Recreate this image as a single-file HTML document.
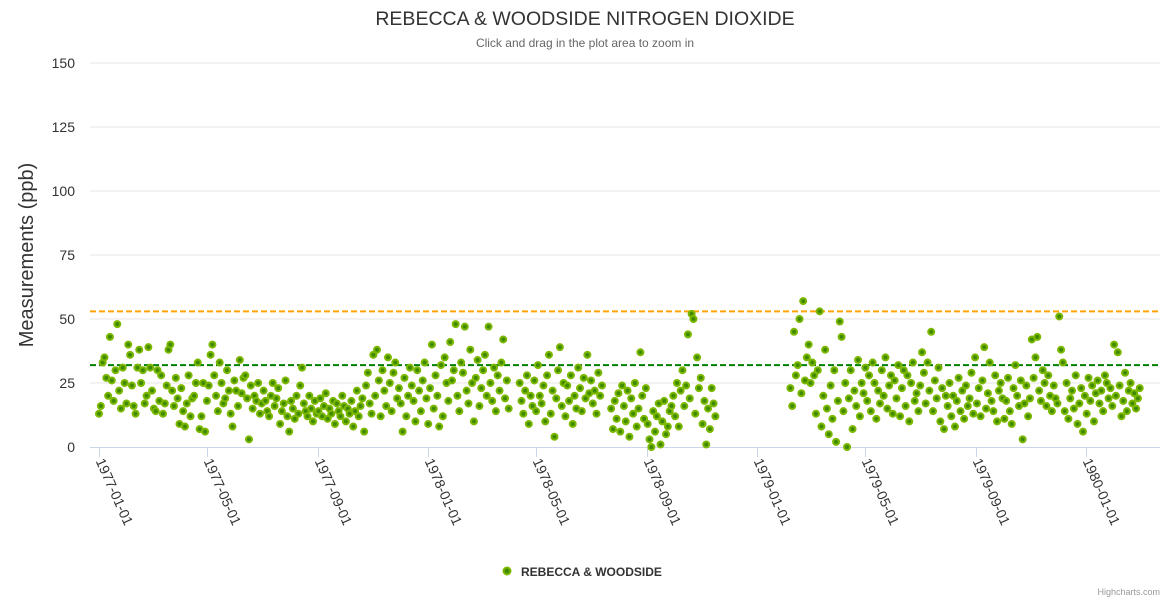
<!DOCTYPE html>
<html><head><meta charset="utf-8"><style>
body{margin:0;background:#fff;font-family:"Liberation Sans",sans-serif}
svg{display:block}
</style></head><body>
<svg id="c" width="1170" height="600" xmlns="http://www.w3.org/2000/svg">
<text x="585" y="25" text-anchor="middle" font-size="19.5" fill="#333">REBECCA &amp; WOODSIDE NITROGEN DIOXIDE</text>
<text x="585" y="47" text-anchor="middle" font-size="12" fill="#666">Click and drag in the plot area to zoom in</text>
<text transform="translate(33,255) rotate(-90)" text-anchor="middle" font-size="20" fill="#333">Measurements (ppb)</text>
<g id="grid"></g><g id="xaxis"></g><g id="plot"></g>
<g>
<circle cx="507" cy="571" r="3.5" fill="#3f8a00" stroke="#7cb800" stroke-width="2"/>
<text x="521" y="576" font-size="12" font-weight="bold" fill="#333">REBECCA &amp; WOODSIDE</text></g>
<text x="1160" y="595" text-anchor="end" font-size="9" fill="#999">Highcharts.com</text>
</svg>
<script>
const yTicks=[0,25,50,75,100,125,150];
const xTickLabels=["1977-01-01","1977-05-01","1977-09-01","1978-01-01","1978-05-01","1978-09-01","1979-01-01","1979-05-01","1979-09-01","1980-01-01"];
const refLines=[53,32];
const startDate="1977-01-01";
const N=null;
const values=[
13,16,33,35,27,20,43,26,18,30,48,22,15,31,25,
17,40,36,24,16,13,31,38,25,30,17,20,39,31,22,
15,14,30,18,28,13,17,24,38,40,22,16,27,19,9,
23,14,8,17,28,12,19,20,25,33,7,12,25,6,18,
24,36,40,28,20,14,33,25,17,19,30,22,13,8,26,
22,16,34,21,27,28,19,3,24,15,20,18,25,13,17,
22,18,14,12,20,25,16,19,23,9,14,17,26,12,6,
18,15,11,20,13,24,31,17,14,12,20,15,10,18,13,
14,19,12,16,21,11,15,13,18,9,17,14,12,20,16,
10,15,13,18,8,14,22,12,16,19,6,24,29,17,13,
36,20,38,26,12,30,22,16,35,25,14,29,33,19,23,
17,6,27,12,20,31,24,18,10,30,22,14,26,33,19,
9,23,40,15,28,20,8,32,12,35,25,18,41,26,30,
48,20,14,33,29,47,22,17,38,25,10,27,34,16,23,
30,36,20,47,25,18,31,14,28,22,33,42,19,26,15,
N,N,N,N,N,25,18,13,22,28,9,20,16,26,14,
32,20,17,24,10,28,36,13,22,4,19,30,39,16,25,
12,24,18,28,9,20,15,31,23,14,27,19,36,21,26,
17,22,13,29,20,24,N,N,N,N,15,7,18,11,21,
6,24,16,10,22,4,19,13,25,8,15,37,20,11,23,
9,3,0,14,6,12,17,1,10,18,5,8,14,16,20,
12,25,8,22,30,16,24,44,19,52,50,13,35,23,27,
9,18,1,15,7,23,17,12,N,N,N,N,N,N,N,
N,N,N,N,N,N,N,N,N,N,N,N,N,N,N,
N,N,N,N,N,N,N,N,N,N,N,N,N,N,N,
N,N,N,23,16,45,28,32,50,21,57,26,35,40,25,
33,28,13,30,53,8,20,38,15,5,24,11,30,2,18,
49,43,14,25,0,19,30,7,22,16,34,12,25,21,31,
18,28,14,33,25,11,22,17,30,20,35,15,24,28,13,
26,19,32,12,23,30,16,28,10,25,33,18,21,14,24,
37,29,17,33,22,45,14,26,19,31,10,23,7,20,16,
25,12,20,8,18,27,14,22,11,24,16,19,29,13,35,
17,23,12,26,39,15,21,33,18,14,28,10,22,25,19,
11,18,27,14,9,23,32,20,16,26,3,17,24,12,19,
42,27,35,43,22,18,30,25,16,28,20,14,24,19,17,
51,38,33,14,25,11,19,22,15,28,9,17,23,6,20,
13,27,18,24,10,21,26,17,22,14,28,25,19,23,16,
40,20,37,24,12,18,29,14,22,25,17,21,15,19,23];
const NS="http://www.w3.org/2000/svg";
const DAY=86400000,T0=Date.parse(startDate);
function xS(t){return 99+(t-T0)/DAY*(987/1095);}
function yS(v){return 447-v*384/150;}
function mk(tag,attrs,parent){const e=document.createElementNS(NS,tag);for(const k in attrs)e.setAttribute(k,attrs[k]);parent.appendChild(e);return e;}
const grid=document.getElementById('grid'),xa=document.getElementById('xaxis'),plot=document.getElementById('plot');
yTicks.forEach(v=>{
  if(v>0){const l=mk('line',{x1:90,x2:1160,y1:yS(v),y2:yS(v),stroke:'#e6e6e6'},grid);
  
  }
  const t=mk('text',{x:75,y:yS(v)+5,'text-anchor':'end','font-size':14,fill:'#333'},grid);
  
  
  t.textContent=v;
});
const ax=mk('line',{x1:90,x2:1160,y1:447.5,y2:447.5,stroke:'#ccd6eb'},xa);


xTickLabels.forEach(s=>{
  const x=Math.round(xS(Date.parse(s)))+0.5;
  const tk=mk('line',{x1:x,x2:x,y1:447,y2:457,stroke:'#ccd6eb'},xa);
  
  
  const t=mk('text',{transform:`translate(${x-4},${461}) rotate(66)`,'font-size':14,fill:'#333'},xa);
  
  
  t.textContent=s;
});
const refColors=['#ffa500','#008000'];
refLines.forEach((v,i)=>{
  const l=mk('line',{x1:90,x2:1160,y1:yS(v),y2:yS(v),stroke:refColors[i],'stroke-width':2,'stroke-dasharray':'6,3'},plot);
  
  
});
values.forEach((v,i)=>{
  if(v===null)return;
  const t=T0+i*DAY*365.25/180;
  const c=mk('circle',{cx:xS(t),cy:yS(v),r:3,fill:'#3f8a00',stroke:'#7cb800','stroke-width':2},plot);
  
  
});
</script>
</body></html>
